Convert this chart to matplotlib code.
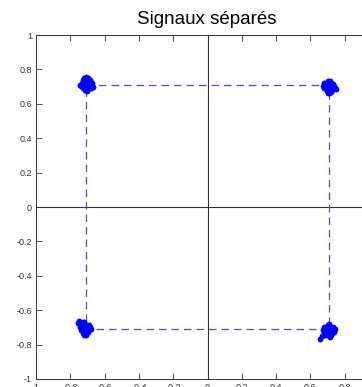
import matplotlib
matplotlib.use("Agg")
import matplotlib.pyplot as plt

plt.rcParams["font.family"] = ["Liberation Sans", "DejaVu Sans"]

title = "Signaux séparés"
ticks = [-1, -0.8, -0.6, -0.4, -0.2, 0, 0.2, 0.4, 0.6, 0.8, 1]
tick_labels = ["-1", "-0.8", "-0.6", "-0.4", "-0.2", "0", "0.2", "0.4", "0.6", "0.8", "1"]

# ideal constellation (dashed square)
square_x = [-0.707, 0.707, 0.707, -0.707, -0.707]
square_y = [0.707, 0.707, -0.707, -0.707, 0.707]

# separated signal samples (four clusters)
tl_x = [-0.735, -0.725, -0.715, -0.705, -0.695, -0.685, -0.675,
        -0.73, -0.72, -0.71, -0.70, -0.69, -0.68, -0.672,
        -0.728, -0.718, -0.708, -0.698, -0.688, -0.678,
        -0.725, -0.715, -0.705, -0.695, -0.685,
        -0.718, -0.706, -0.694, -0.742, -0.668, -0.712, -0.700]
tl_y = [0.705, 0.705, 0.705, 0.705, 0.705, 0.705, 0.705,
        0.72, 0.72, 0.72, 0.72, 0.72, 0.72, 0.72,
        0.69, 0.69, 0.69, 0.69, 0.69, 0.69,
        0.738, 0.738, 0.738, 0.738, 0.738,
        0.752, 0.756, 0.75, 0.71, 0.70, 0.678, 0.676]
tr_x = [0.675, 0.685, 0.695, 0.705, 0.715, 0.725, 0.735,
        0.68, 0.69, 0.70, 0.71, 0.72, 0.73,
        0.682, 0.692, 0.702, 0.712, 0.722, 0.732, 0.742,
        0.695, 0.705, 0.715, 0.725,
        0.70, 0.71, 0.72, 0.748, 0.705, 0.715]
tr_y = [0.705, 0.705, 0.705, 0.705, 0.705, 0.705, 0.705,
        0.72, 0.722, 0.725, 0.725, 0.722, 0.718,
        0.69, 0.69, 0.69, 0.69, 0.69, 0.69, 0.69,
        0.676, 0.676, 0.676, 0.678,
        0.664, 0.662, 0.668, 0.684, 0.735, 0.735]
bl_x = [-0.745, -0.735, -0.725, -0.715, -0.705, -0.695, -0.685,
        -0.742, -0.732, -0.722, -0.712, -0.702, -0.692,
        -0.74, -0.73, -0.72, -0.71, -0.70, -0.69, -0.682,
        -0.725, -0.715, -0.705, -0.695,
        -0.718, -0.708, -0.755, -0.748, -0.718, -0.728]
bl_y = [-0.70, -0.70, -0.70, -0.70, -0.70, -0.70, -0.70,
        -0.685, -0.685, -0.685, -0.685, -0.685, -0.688,
        -0.715, -0.715, -0.715, -0.715, -0.715, -0.715, -0.71,
        -0.73, -0.73, -0.73, -0.728,
        -0.742, -0.745, -0.675, -0.665, -0.67, -0.668]
br_x = [0.675, 0.685, 0.695, 0.705, 0.715, 0.725, 0.735, 0.745,
        0.68, 0.69, 0.70, 0.71, 0.72, 0.73,
        0.678, 0.688, 0.698, 0.708, 0.718, 0.728, 0.738,
        0.69, 0.70, 0.71, 0.72,
        0.70, 0.71, 0.668, 0.655, 0.712]
br_y = [-0.715, -0.715, -0.715, -0.715, -0.715, -0.715, -0.715, -0.71,
        -0.70, -0.698, -0.695, -0.695, -0.698, -0.70,
        -0.73, -0.73, -0.73, -0.73, -0.73, -0.73, -0.728,
        -0.745, -0.745, -0.745, -0.742,
        -0.685, -0.682, -0.748, -0.765, -0.758]

W, H, DPI = 362, 387, 100
fig = plt.figure(figsize=(W / DPI, H / DPI), dpi=DPI)
fig.patch.set_facecolor("white")
ax = fig.add_axes([36 / W, 8 / H, 343 / W, 344 / H])

ax.axhline(0, color="#333333", lw=0.8, zorder=1)
ax.axvline(0, color="#333333", lw=0.8, zorder=1)
ax.plot(square_x, square_y, color="#4a4ad0", lw=0.9, ls=(0, (6, 4)), zorder=2)

for xs, ys in [(tl_x, tl_y), (tr_x, tr_y), (bl_x, bl_y), (br_x, br_y)]:
    ax.plot(xs, ys, "o", color="#0000ff", ms=4.2, mew=0, zorder=3)

ax.set_xlim(-1, 1)
ax.set_ylim(-1, 1)
ax.set_xticks(ticks)
ax.set_xticklabels(tick_labels)
ax.set_yticks(ticks)
ax.set_yticklabels(tick_labels)
ax.tick_params(direction="in", length=4, width=0.6, labelsize=6.5, colors="#333333",
               top=True, right=True, pad=3)
for s in ax.spines.values():
    s.set_color("#333333")
    s.set_linewidth(0.7)

fig.text(207 / W, 1 - 19 / H, title, ha="center", va="center", fontsize=13.5, color="black")

fig.savefig("out.png", dpi=DPI)
